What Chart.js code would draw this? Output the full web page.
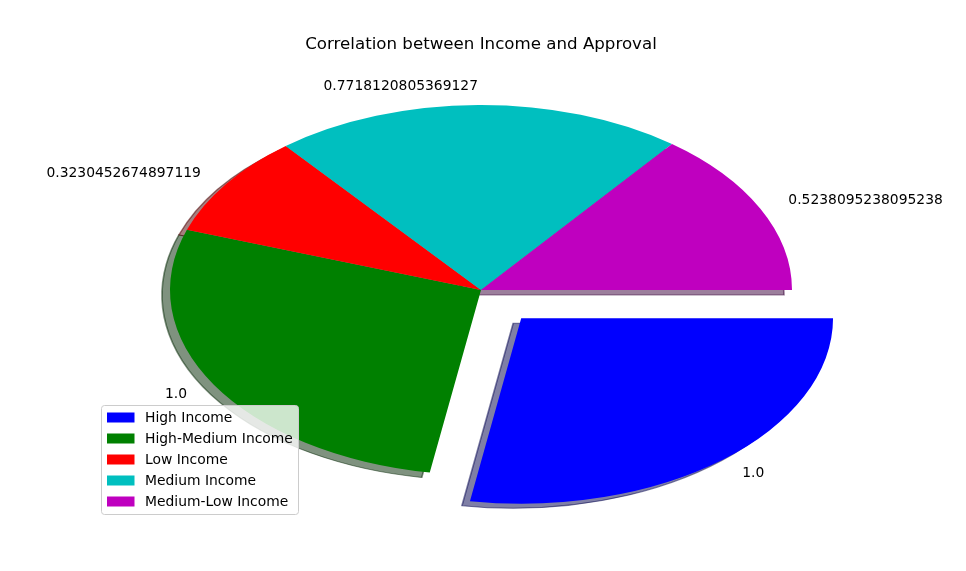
<!DOCTYPE html>
<html>
<head>
<meta charset="utf-8">
<script src="https://cdn.jsdelivr.net/npm/chart.js@4"></script>
<style>
  html, body { margin: 0; padding: 0; background: #fff; }
  #wrap { width: 966px; height: 571px; }
</style>
</head>
<body>
<div id="wrap"><canvas id="pie" width="966" height="571"></canvas></div>
<script>
// data
const categories = ["High Income", "High-Medium Income", "Low Income", "Medium Income", "Medium-Low Income"];
const approval = [1.0, 1.0, 0.3230452674897119, 0.7718120805369127, 0.5238095238095238];
const sliceColors = ["#0000ff", "#008000", "#ff0000", "#00bfbf", "#bf00bf"];
const explode = [0.2, 0, 0, 0, 0];

const RADIUS = 185;          // vertical radius in px
const STRETCH = 311 / 185;   // matplotlib axes are wider than tall -> ellipse
const SHADOW_DX = -8, SHADOW_DY = 5;
const FONT = "'DejaVu Sans', sans-serif";

function fmt(v) {
  return Number.isInteger(v) ? v.toFixed(1) : String(v);
}

function shadowColor(hex) {
  const n = parseInt(hex.slice(1), 16);
  const r = (n >> 16) & 255, g = (n >> 8) & 255, b = n & 255;
  return `rgba(${Math.round(r * 0.3)}, ${Math.round(g * 0.3)}, ${Math.round(b * 0.3)}, 0.5)`;
}

function stretchAround(ctx, cx, cy, dx, dy) {
  ctx.translate(cx + dx, cy + dy);
  ctx.scale(STRETCH, 1);
  ctx.translate(-cx, -cy);
}

// squash the round pie into an ellipse and draw the matplotlib style shadows
const ellipsePlugin = {
  id: "ellipse",
  beforeDatasetsDraw(chart) {
    const ctx = chart.ctx;
    const arcs = chart.getDatasetMeta(0).data;
    if (!arcs.length) return;
    const cx = arcs[0].x, cy = arcs[0].y;

    arcs.forEach((arc, i) => {
      const { startAngle, endAngle, outerRadius } = arc.getProps(["startAngle", "endAngle", "outerRadius"], true);
      const off = (arc.options.offset || 0) / 4;
      const mid = (startAngle + endAngle) / 2;
      const ox = cx + Math.cos(mid) * off, oy = cy + Math.sin(mid) * off;
      ctx.save();
      stretchAround(ctx, cx, cy, SHADOW_DX, SHADOW_DY);
      ctx.beginPath();
      ctx.moveTo(ox, oy);
      ctx.arc(ox, oy, outerRadius, startAngle, endAngle);
      ctx.closePath();
      ctx.fillStyle = shadowColor(sliceColors[i]);
      ctx.fill();
      ctx.lineWidth = 1;
      ctx.strokeStyle = shadowColor(sliceColors[i]);
      ctx.stroke();
      ctx.restore();
    });

    ctx.save();
    stretchAround(ctx, cx, cy, 0, 0);
  },
  afterDatasetsDraw(chart) {
    chart.ctx.restore();
  },
  afterDraw(chart) {
    const ctx = chart.ctx;
    const arcs = chart.getDatasetMeta(0).data;
    if (!arcs.length) return;
    const cx = arcs[0].x, cy = arcs[0].y;

    // value labels at 1.1 radius, like matplotlib's labeldistance
    ctx.save();
    ctx.font = `13.89px ${FONT}`;
    ctx.fillStyle = "#000";
    ctx.textBaseline = "middle";
    arcs.forEach((arc, i) => {
      const { startAngle, endAngle, outerRadius } = arc.getProps(["startAngle", "endAngle", "outerRadius"], true);
      const off = (arc.options.offset || 0) / 4;
      const mid = (startAngle + endAngle) / 2;
      const d = off + outerRadius * 1.1;
      const x = cx + Math.cos(mid) * d * STRETCH;
      const y = cy + Math.sin(mid) * d;
      ctx.textAlign = Math.cos(mid) > 0 ? "left" : "right";
      ctx.fillText(fmt(approval[i]), x, y);
    });
    ctx.restore();

    // legend, lower left like matplotlib's "best"
    const lx = 101, ly = 405, lw = 197, lh = 109;
    ctx.save();
    ctx.beginPath();
    ctx.roundRect(lx + 0.5, ly + 0.5, lw, lh, 3);
    ctx.fillStyle = "rgba(255,255,255,0.8)";
    ctx.fill();
    ctx.strokeStyle = "#cccccc";
    ctx.lineWidth = 1;
    ctx.stroke();
    ctx.font = `13.89px ${FONT}`;
    ctx.textBaseline = "middle";
    ctx.textAlign = "left";
    categories.forEach((name, i) => {
      const rowY = ly + 12.5 + i * 21;
      ctx.fillStyle = sliceColors[i];
      ctx.fillRect(lx + 6, rowY - 5, 27.5, 10);
      ctx.fillStyle = "#000";
      ctx.fillText(name, lx + 44, rowY + 0.5);
    });
    ctx.restore();
  }
};

new Chart(document.getElementById("pie"), {
  type: "pie",
  data: {
    labels: categories,
    datasets: [{
      data: approval,
      backgroundColor: sliceColors,
      borderWidth: 0,
      offset: explode.map((e) => e * RADIUS * 4),
      radius: RADIUS,
      clip: false
    }]
  },
  options: {
    responsive: false,
    animation: false,
    rotation: 90,
    layout: { padding: { left: 0, right: 4, top: 0, bottom: 51 } },
    plugins: {
      legend: { display: false },
      tooltip: { enabled: false },
      title: {
        display: true,
        text: "Correlation between Income and Approval",
        color: "#000",
        font: { family: "DejaVu Sans", size: 16.67, weight: "normal", lineHeight: 1.2 },
        padding: { top: 35, bottom: 5 }
      }
    }
  },
  plugins: [ellipsePlugin]
});
</script>
</body>
</html>
